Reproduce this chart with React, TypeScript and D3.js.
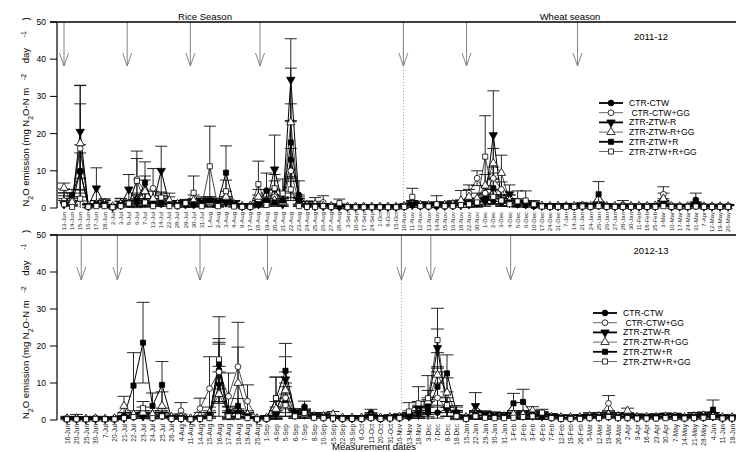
import * as d3 from "d3";

// treatments, in legend order
const seriesNames = [
  "CTR-CTW",
  " CTR-CTW+GG",
  "ZTR-ZTW-R",
  "ZTR-ZTW-R+GG",
  "ZTR-ZTW+R",
  "ZTR-ZTW+R+GG",
];

const topDates = [
  "13-Jun", "14-Jun", "15-Jun", "16-Jun", "17-Jun", "18-Jun", "2-Jul", "3-Jul", "5-Jul", "6-Jul",
  "7-Jul", "13-Jul", "14-Jul", "22-Jul", "28-Jul", "29-Jul", "30-Jul", "31-Jul", "1-Aug", "2-Aug",
  "3-Aug", "4-Aug", "9-Aug", "17-Aug", "18-Aug", "19-Aug", "20-Aug", "21-Aug", "22-Aug", "23-Aug",
  "24-Aug", "25-Aug", "26-Aug", "27-Aug", "28-Aug", "3-Sep", "10-Sep", "17-Sep", "24-Sep", "1-Oct",
  "8-Oct", "15-Oct", "10-Nov", "11-Nov", "12-Nov", "13-Nov", "14-Nov", "15-Nov", "16-Nov", "18-Nov",
  "22-Nov", "30-Nov", "1-Dec", "2-Dec", "3-Dec", "4-Dec", "5-Dec", "6-Dec", "10-Dec", "17-Dec",
  "24-Dec", "31-Dec", "7-Jan", "14-Jan", "21-Jan", "24-Jan", "25-Jan", "26-Jan", "27-Jan", "28-Jan",
  "30-Jan", "11-Feb", "18-Feb", "25-Feb", "3-Mar", "10-Mar", "17-Mar", "24-Mar", "31-Mar", "7-Apr",
  "12-May", "19-May", "26-May",
];

const bottomDates = [
  "16-Jun", "20-Jun", "25-Jun", "30-Jun", "7-Jul", "20-Jul", "21-Jul", "22-Jul", "23-Jul", "24-Jul",
  "25-Jul", "26-Jul", "4-Aug", "11-Aug", "14-Aug", "15-Aug", "16-Aug", "17-Aug", "18-Aug", "19-Aug",
  "25-Aug", "1-Sep", "4-Sep", "5-Sep", "6-Sep", "7-Sep", "8-Sep", "10-Sep", "15-Sep", "22-Sep",
  "29-Sep", "6-Oct", "13-Oct", "20-Oct", "31-Oct", "10-Nov", "13-Nov", "18-Nov", "3-Dec", "7-Dec",
  "8-Dec", "18-Dec", "15-Jan", "22-Jan", "29-Jan", "30-Jan", "31-Jan", "1-Feb", "2-Feb", "3-Feb",
  "6-Feb", "7-Feb", "12-Feb", "19-Feb", "26-Feb", "5-Mar", "12-Mar", "19-Mar", "26-Mar", "2-Apr",
  "9-Apr", "16-Apr", "23-Apr", "30-Apr", "7-May", "14-May", "21-May", "28-May", "4-Jun", "11-Jun",
  "18-Jun",
];

const yTicks = [0, 10, 20, 30, 40, 50];

// 2011-12 means
const top1 = [
  1.2, 1.0, 10.0, 0.5, 1.0, 1.0, 0.3, 0.8, 1.0, 2.5,
  1.5, 1.0, 1.0, 1.0, 0.8, 1.0, 1.2, 1.5, 1.5, 1.2,
  2.0, 1.0, 0.5, 0.6, 1.5, 4.7, 5.0, 1.5, 13.0, 3.5,
  0.8, 0.6, 0.5, 0.4, 0.5, 0.3, 0.3, 0.3, 0.3, 0.3,
  0.3, 0.3, 0.5, 1.0, 0.8, 0.8, 0.7, 0.8, 0.8, 1.0,
  1.2, 1.5, 2.5, 2.0, 1.5, 2.0, 1.0, 0.8, 0.6, 0.5,
  0.5, 0.5, 0.5, 0.4, 0.7, 0.5, 0.8, 0.5, 0.4, 0.4,
  0.4, 0.4, 0.5, 0.5, 1.0, 0.4, 0.4, 0.4, 2.2, 0.4,
  0.4, 0.4, 0.4,
];
const top2 = [
  2.0, 2.0, 16.0, 0.5, 1.0, 1.5, 0.4, 1.0, 1.0, 7.7,
  4.4, 5.3, 1.5, 1.5, 1.0, 1.0, 1.5, 1.0, 1.2, 1.5,
  2.0, 1.0, 0.5, 0.5, 2.0, 2.0, 3.0, 1.5, 10.0, 1.5,
  0.8, 0.8, 1.5, 0.5, 0.5, 0.3, 0.3, 0.3, 0.3, 0.3,
  0.3, 0.3, 0.4, 1.0, 0.8, 0.6, 0.8, 0.7, 0.8, 1.2,
  4.0, 8.0, 4.0, 8.0, 5.0, 1.5, 1.0, 1.0, 0.8, 0.5,
  0.5, 0.5, 0.5, 0.5, 0.6, 0.5, 0.5, 0.5, 0.4, 0.8,
  0.5, 0.5, 0.5, 0.6, 3.7, 0.5, 0.4, 0.4, 0.5, 0.4,
  0.4, 0.4, 0.4,
];
const top3 = [
  1.0, 1.0, 20.5, 0.5, 5.3, 1.0, 0.3, 0.8, 5.0, 1.5,
  1.5, 1.0, 10.0, 1.0, 0.8, 1.0, 1.0, 2.0, 2.0, 1.5,
  1.5, 1.0, 0.5, 0.5, 1.0, 1.5, 10.4, 1.0, 34.5, 2.0,
  0.6, 0.5, 0.5, 0.4, 0.4, 0.3, 0.3, 0.3, 0.3, 0.3,
  0.3, 0.3, 0.5, 0.8, 0.6, 0.6, 0.6, 0.6, 0.7, 0.8,
  1.0, 1.5, 2.0, 19.6, 2.0, 3.7, 1.2, 1.0, 0.7, 0.6,
  0.5, 0.5, 0.6, 0.5, 0.5, 0.5, 0.8, 0.5, 0.4, 0.4,
  0.4, 0.4, 0.4, 0.5, 1.5, 0.4, 0.4, 0.4, 0.8, 0.4,
  0.4, 0.4, 0.4,
];
const top4 = [
  5.4, 1.5, 17.4, 0.6, 1.0, 1.2, 0.4, 1.0, 1.0, 2.0,
  4.5, 2.5, 2.5, 2.0, 1.0, 1.2, 2.0, 1.5, 1.5, 1.5,
  3.0, 1.0, 0.5, 0.6, 3.0, 1.5, 2.0, 1.5, 23.0, 1.5,
  0.8, 1.0, 0.6, 0.5, 0.5, 0.3, 0.3, 0.3, 0.3, 0.3,
  0.3, 0.3, 0.5, 0.8, 0.8, 0.7, 0.8, 0.8, 1.0, 2.0,
  3.0, 2.5, 6.0, 12.0, 9.4, 2.0, 1.5, 1.0, 0.8, 0.6,
  0.5, 0.6, 0.5, 0.5, 0.6, 0.5, 0.6, 0.5, 0.5, 0.5,
  0.5, 0.5, 0.5, 0.6, 2.5, 0.5, 0.4, 0.4, 0.6, 0.4,
  0.4, 0.4, 0.4,
];
const top5 = [
  1.3, 3.5, 9.8, 0.5, 1.0, 1.0, 0.3, 0.8, 1.0, 2.0,
  6.8, 1.0, 1.5, 1.0, 0.8, 1.0, 1.0, 1.5, 2.0, 1.5,
  9.5, 1.0, 0.5, 0.5, 1.0, 2.0, 1.5, 2.0, 17.6, 2.0,
  0.6, 0.5, 0.5, 0.4, 0.4, 0.3, 0.3, 0.3, 0.3, 0.3,
  0.3, 0.3, 0.4, 0.8, 0.6, 0.6, 0.6, 0.6, 0.7, 0.8,
  1.0, 1.2, 2.0, 5.3, 2.0, 1.5, 1.0, 0.8, 0.6, 0.5,
  0.5, 0.5, 0.5, 0.4, 0.6, 0.5, 3.7, 0.5, 0.4, 0.4,
  0.4, 0.4, 0.4, 0.5, 1.0, 0.4, 0.4, 0.4, 0.8, 0.4,
  0.4, 0.4, 0.4,
];
const top6 = [
  1.0, 0.3, 2.5, 0.3, 0.5, 0.5, 0.2, 0.5, 1.2, 7.3,
  1.5, 0.5, 2.8, 0.5, 0.5, 1.3, 4.1, 0.5, 11.2, 0.5,
  4.5, 0.4, 0.3, 0.3, 6.4, 0.8, 5.3, 3.9, 5.0, 0.5,
  0.3, 0.3, 0.5, 0.3, 1.3, 0.2, 0.2, 0.2, 0.2, 0.2,
  0.2, 0.2, 0.3, 3.0, 0.5, 0.4, 1.0, 0.5, 0.5, 0.8,
  1.0, 1.5, 13.8, 3.0, 2.0, 1.0, 1.8, 2.0, 1.0, 0.4,
  0.3, 0.3, 0.3, 0.3, 0.4, 0.3, 0.5, 0.3, 0.3, 0.3,
  0.3, 0.3, 0.3, 0.3, 0.5, 0.3, 0.3, 0.3, 0.4, 0.3,
  0.3, 0.3, 0.3,
];

// 2011-12 standard errors
const topErr1 = [
  2.8, 1, 7, 0.5, 1, 1, 0.3, 1, 1, 1.5,
  1, 1, 1, 1, 1, 1, 1, 1, 1, 1,
  1, 0.8, 0.5, 0.5, 1, 4.7, 4, 1, 10.2, 3.8,
  1, 0.8, 0.5, 0.4, 0.5, 0.3, 0.3, 0.3, 0.3, 0.3,
  0.3, 0.3, 0.5, 1, 0.8, 0.8, 0.7, 0.8, 0.8, 1,
  1, 1, 1.5, 1, 1, 1.5, 1, 0.8, 0.6, 0.5,
  0.5, 0.5, 0.5, 0.4, 0.8, 0.5, 0.8, 0.5, 0.4, 0.4,
  0.4, 0.4, 0.5, 0.5, 1, 0.4, 0.4, 0.4, 1.8, 0.4,
  0.4, 0.4, 0.4,
];
const topErr2 = [
  3.1, 1, 12, 0.5, 1, 1, 0.3, 1.5, 1, 7.6,
  4.2, 5.3, 1, 1.5, 1, 1, 1, 1, 1, 1,
  1, 1, 0.5, 0.5, 1.5, 2, 2, 1, 6, 1,
  1, 1, 1.8, 0.5, 0.5, 0.3, 0.3, 0.3, 0.3, 0.3,
  0.3, 0.3, 0.4, 1, 0.8, 0.6, 0.8, 0.7, 0.8, 1,
  2.2, 2, 2, 3, 2, 1, 1, 1, 0.8, 0.5,
  0.5, 0.5, 0.5, 0.5, 0.6, 0.5, 0.5, 0.5, 0.4, 1.2,
  0.5, 0.5, 0.5, 0.6, 2, 0.5, 0.4, 0.4, 0.5, 0.4,
  0.4, 0.4, 0.4,
];
const topErr3 = [
  1.5, 1, 12.5, 0.5, 5.5, 1, 0.3, 1, 4, 1,
  1, 1, 6.6, 1, 1, 1, 1, 1, 1, 1,
  1, 1, 0.5, 0.5, 1, 1, 9.2, 1, 11, 1.5,
  0.6, 0.5, 0.5, 0.4, 0.4, 0.3, 0.3, 0.3, 0.3, 0.3,
  0.3, 0.3, 0.5, 0.8, 0.6, 0.6, 0.6, 0.6, 0.7, 0.8,
  1, 1, 1.5, 11.9, 1.5, 2.5, 1, 1, 0.7, 0.6,
  0.5, 0.5, 0.6, 0.5, 0.5, 0.5, 0.8, 0.5, 0.4, 0.4,
  0.4, 0.4, 0.4, 0.5, 1, 0.4, 0.4, 0.4, 0.8, 0.4,
  0.4, 0.4, 0.4,
];
const topErr4 = [
  1.3, 1, 15.5, 0.5, 1, 1, 0.3, 1.6, 1, 1.5,
  3, 2, 1.5, 2, 1, 1, 1.5, 1, 1, 1,
  1.5, 1, 0.5, 0.5, 2, 1, 1.5, 1, 14.6, 1,
  1, 1.8, 0.6, 0.5, 0.5, 0.3, 0.3, 0.3, 0.3, 0.3,
  0.3, 0.3, 0.5, 0.8, 0.8, 0.7, 0.8, 0.8, 1, 2.7,
  2, 1.5, 3, 4, 4.8, 1.5, 1, 1, 0.8, 0.6,
  0.5, 0.6, 0.5, 0.5, 0.6, 0.5, 0.6, 0.5, 0.5, 0.5,
  0.5, 0.5, 0.5, 0.6, 1.5, 0.5, 0.4, 0.4, 0.6, 0.4,
  0.4, 0.4, 0.4,
];
const topErr5 = [
  2, 1.5, 5, 0.5, 1, 1, 0.3, 1, 1, 1.5,
  5.6, 1, 1, 1, 1, 1, 1, 1, 1, 1,
  7.2, 1, 0.5, 0.5, 1, 1, 1, 1, 10.4, 1,
  0.6, 0.5, 0.5, 0.4, 0.4, 0.3, 0.3, 0.3, 0.3, 0.3,
  0.3, 0.3, 0.4, 0.8, 0.6, 0.6, 0.6, 0.6, 0.7, 0.8,
  1, 1, 1.5, 4.1, 1.5, 1, 1, 0.8, 0.6, 0.5,
  0.5, 0.5, 0.5, 0.4, 0.6, 0.5, 3.4, 0.5, 0.4, 0.4,
  0.4, 0.4, 0.4, 0.5, 1, 0.4, 0.4, 0.4, 0.8, 0.4,
  0.4, 0.4, 0.4,
];
const topErr6 = [
  1, 0.3, 2.5, 0.3, 0.5, 0.5, 0.2, 0.5, 1, 6,
  1, 0.5, 1.5, 0.5, 0.5, 1, 4.5, 0.5, 10.8, 0.5,
  3, 0.4, 0.3, 0.3, 6.2, 0.8, 2, 3.9, 3, 0.5,
  0.3, 0.3, 0.5, 0.3, 1.1, 0.2, 0.2, 0.2, 0.2, 0.2,
  0.2, 0.2, 0.3, 2.3, 0.5, 0.4, 2.3, 0.5, 0.5, 0.8,
  1, 1, 11, 2, 1.5, 1, 2.8, 2.6, 1, 0.4,
  0.3, 0.3, 0.3, 0.3, 0.4, 0.3, 0.5, 0.3, 0.3, 0.3,
  0.3, 0.3, 0.3, 0.3, 0.5, 0.3, 0.3, 0.3, 0.4, 0.3,
  0.3, 0.3, 0.3,
];

// 2012-13 means
const bot1 = [
  0.4, 0.4, 0.3, 0.4, 0.3, 0.4, 0.5, 1.0, 1.0, 0.8,
  1.0, 0.5, 0.5, 0.3, 0.5, 1.0, 13.5, 1.0, 1.0, 0.8,
  0.3, 0.5, 1.5, 5.0, 1.5, 3.6, 1.0, 0.8, 0.6, 0.5,
  0.5, 0.6, 2.0, 0.6, 0.7, 0.8, 1.0, 1.5, 2.0, 2.0,
  3.0, 1.5, 0.6, 1.2, 1.2, 1.0, 0.8, 1.0, 1.2, 1.0,
  1.0, 0.8, 0.6, 0.6, 0.6, 0.7, 0.7, 1.0, 0.8, 0.8,
  0.7, 0.7, 0.7, 0.8, 0.8, 0.6, 0.7, 0.8, 1.0, 0.6,
  0.6,
];
const bot2 = [
  0.5, 0.5, 0.3, 0.5, 0.3, 0.4, 1.0, 1.0, 1.5, 1.0,
  1.0, 0.5, 2.5, 0.3, 3.1, 8.5, 13.0, 6.4, 14.4, 5.1,
  0.3, 0.5, 2.0, 6.0, 1.5, 1.5, 1.0, 0.8, 0.6, 0.5,
  0.5, 0.5, 1.0, 0.5, 0.6, 0.8, 1.5, 2.5, 3.5, 6.0,
  3.0, 1.5, 0.6, 1.5, 1.0, 1.0, 1.0, 1.5, 1.5, 1.5,
  1.2, 0.8, 0.6, 0.6, 0.6, 0.8, 1.0, 4.5, 1.0, 1.0,
  0.8, 0.7, 0.7, 0.8, 0.8, 0.6, 1.0, 0.8, 1.0, 0.7,
  0.6,
];
const bot3 = [
  0.3, 0.3, 0.2, 0.3, 0.3, 0.3, 0.5, 1.0, 1.0, 0.8,
  1.5, 0.5, 0.5, 0.3, 0.5, 1.0, 9.5, 1.5, 2.0, 1.0,
  0.3, 0.5, 1.5, 11.0, 2.0, 1.5, 1.0, 0.8, 0.6, 0.5,
  0.5, 0.5, 0.8, 0.5, 0.6, 0.7, 1.0, 3.0, 4.0, 19.5,
  3.0, 2.0, 0.6, 3.8, 1.5, 1.2, 1.0, 1.0, 1.2, 1.2,
  1.0, 0.8, 0.6, 0.6, 0.7, 0.8, 0.8, 1.0, 0.8, 0.8,
  0.7, 0.7, 0.8, 1.2, 1.0, 0.7, 0.8, 0.8, 1.0, 0.6,
  0.6,
];
const bot4 = [
  0.4, 0.4, 0.3, 0.4, 0.3, 0.4, 3.8, 1.5, 2.0, 1.5,
  3.8, 0.8, 0.8, 0.4, 1.0, 2.0, 7.0, 2.0, 10.0, 1.5,
  0.4, 0.6, 3.0, 8.0, 1.5, 1.5, 1.0, 1.0, 1.5, 0.6,
  0.6, 0.6, 0.8, 0.6, 0.7, 0.8, 1.0, 2.0, 5.0, 12.2,
  7.4, 1.5, 0.7, 1.5, 1.0, 1.0, 1.0, 1.5, 1.5, 2.5,
  1.2, 0.8, 0.7, 0.7, 0.7, 1.0, 1.0, 1.5, 1.0, 2.5,
  0.8, 0.8, 0.8, 0.9, 0.9, 0.7, 1.0, 1.2, 1.0, 0.7,
  0.7,
];
const bot5 = [
  0.3, 0.3, 0.3, 0.3, 0.3, 0.3, 1.0, 9.3, 20.9, 3.8,
  9.5, 0.5, 0.5, 0.3, 0.5, 1.5, 15.2, 2.2, 3.8, 1.0,
  0.3, 0.5, 5.9, 13.3, 2.0, 2.0, 1.0, 0.8, 0.6, 0.5,
  0.5, 0.5, 0.8, 0.5, 0.6, 0.7, 1.0, 2.0, 3.0, 9.0,
  12.6, 2.0, 0.6, 1.5, 1.2, 1.0, 1.0, 4.5, 4.9, 1.5,
  1.0, 0.8, 0.6, 0.6, 0.6, 0.8, 0.8, 1.0, 0.8, 0.8,
  0.7, 0.7, 0.8, 0.8, 0.8, 0.7, 0.8, 1.0, 2.8, 0.6,
  0.6,
];
const bot6 = [
  0.2, 0.2, 0.2, 0.3, 0.2, 0.2, 0.5, 0.8, 3.2, 0.5,
  1.0, 0.3, 0.3, 0.2, 0.3, 0.5, 16.4, 1.0, 1.0, 0.5,
  0.2, 0.3, 5.9, 4.0, 1.0, 1.9, 0.6, 0.5, 0.4, 0.3,
  0.3, 0.3, 0.5, 0.3, 0.4, 0.5, 2.3, 4.5, 5.9, 21.6,
  4.0, 1.0, 0.3, 1.0, 0.6, 0.5, 0.5, 0.6, 0.8, 1.0,
  2.0, 0.5, 0.3, 0.3, 0.3, 0.5, 0.5, 0.8, 0.5, 0.5,
  0.4, 0.4, 0.4, 0.5, 0.5, 0.4, 0.5, 0.6, 0.8, 0.4,
  0.4,
];

// 2012-13 standard errors
const botErr1 = [
  0.3, 0.5, 0.3, 0.3, 0.3, 0.3, 0.5, 1, 1, 0.8,
  1, 0.5, 0.5, 0.3, 0.5, 1, 7, 1, 1, 0.8,
  0.3, 0.5, 1, 4, 1, 1.5, 1, 0.8, 0.6, 0.5,
  0.5, 0.6, 0.9, 0.6, 0.7, 0.8, 1, 1, 1.5, 1.5,
  2, 1, 0.6, 1, 1, 1, 0.8, 1, 1, 1,
  1, 0.8, 0.6, 0.6, 0.6, 0.7, 0.7, 1, 0.8, 0.8,
  0.7, 0.7, 0.7, 0.8, 0.8, 0.6, 0.7, 0.8, 1, 0.6,
  0.6,
];
const botErr2 = [
  0.5, 1, 0.3, 0.5, 0.3, 0.3, 1, 1, 1, 1,
  1, 0.5, 2.2, 0.3, 2.8, 8.6, 8, 6.3, 12, 4.4,
  0.3, 0.5, 1.5, 4, 1, 1, 1, 0.8, 0.6, 0.5,
  0.5, 0.5, 1, 0.5, 0.6, 0.8, 1, 1.5, 2, 4,
  2, 1, 0.6, 1, 1, 1, 1, 1, 1, 1,
  1, 0.8, 0.6, 0.6, 0.6, 0.8, 1, 2.1, 1, 1,
  0.8, 0.7, 0.7, 0.8, 0.8, 0.6, 1, 0.8, 1, 0.7,
  0.6,
];
const botErr3 = [
  0.3, 0.3, 0.2, 0.3, 0.3, 0.3, 0.5, 1, 1, 0.8,
  1, 0.5, 0.5, 0.3, 0.5, 1, 5, 1, 1, 1,
  0.3, 0.5, 1, 6.1, 1, 1, 1, 0.8, 0.6, 0.5,
  0.5, 0.5, 0.8, 0.5, 0.6, 0.7, 1, 2, 2, 5.1,
  2, 1.9, 0.6, 3.6, 1, 1, 1, 1, 1, 1,
  1, 0.8, 0.6, 0.6, 0.7, 0.8, 0.8, 1, 0.8, 0.8,
  0.7, 0.7, 0.8, 0.6, 0.8, 0.7, 0.8, 0.8, 1, 0.6,
  0.6,
];
const botErr4 = [
  0.4, 0.4, 0.3, 0.4, 0.3, 0.4, 2.6, 1, 1.5, 1,
  3.8, 0.8, 0.8, 0.4, 1, 1.5, 6, 1.5, 9.7, 1,
  0.4, 0.6, 2, 5, 1, 1, 1, 1, 0.8, 0.6,
  0.6, 0.6, 0.8, 0.6, 0.7, 0.8, 1, 1.5, 3, 6,
  4, 1, 0.7, 1, 1, 1, 1, 1, 1, 1.1,
  1, 0.8, 0.7, 0.7, 0.7, 1, 1, 1, 1, 0.7,
  0.8, 0.8, 0.8, 0.9, 0.9, 0.7, 1, 1, 1, 0.7,
  0.7,
];
const botErr5 = [
  0.3, 0.3, 0.3, 0.3, 0.3, 0.3, 1, 8.9, 10.9, 3.5,
  6.3, 0.5, 0.5, 0.3, 0.5, 1, 6.8, 1.5, 2, 1,
  0.3, 0.5, 5.7, 7.4, 1, 1, 1, 0.8, 0.6, 0.5,
  0.5, 0.5, 0.8, 0.5, 0.6, 0.7, 1, 1.5, 2, 5,
  5, 1.5, 0.6, 1, 1, 1, 1, 2.7, 3.4, 1,
  1, 0.8, 0.6, 0.6, 0.6, 0.8, 0.8, 1, 0.8, 0.8,
  0.7, 0.7, 0.8, 0.8, 0.8, 0.7, 0.8, 1, 2.6, 0.6,
  0.6,
];
const botErr6 = [
  0.2, 0.2, 0.2, 0.3, 0.2, 0.2, 0.5, 0.8, 1.8, 0.5,
  1, 0.3, 0.3, 0.2, 0.3, 0.5, 11.5, 1, 1, 0.5,
  0.2, 0.3, 5.7, 3, 1, 1, 0.6, 0.5, 0.4, 0.3,
  0.3, 0.3, 0.5, 0.3, 0.4, 0.5, 2.4, 4.5, 6.1, 8.6,
  2, 1, 0.3, 1, 0.6, 0.5, 0.5, 0.6, 0.8, 1,
  0.9, 0.5, 0.3, 0.3, 0.3, 0.5, 0.5, 0.8, 0.5, 0.5,
  0.4, 0.4, 0.4, 0.5, 0.5, 0.4, 0.5, 0.6, 0.8, 0.4,
  0.4,
];

// arrow events, as positions along the date axis (category index)
const topArrows = [0, 7.8, 15.6, 24.2, 41.9, 49.7, 63.4];
const bottomArrows = [1.5, 5.3, 14.0, 21.1, 35.2, 38.3, 46.7];
const topSeasonBreak = 41.9;
const bottomSeasonBreak = 35.2;

const font = "Liberation Sans, Arial, sans-serif";
const symbolTypes = [
  d3.symbolCircle,
  d3.symbolCircle,
  d3.symbolTriangle,
  d3.symbolTriangle,
  d3.symbolSquare,
  d3.symbolSquare,
];
const filled = [true, false, true, false, true, false];

function Marker({ cx, cy, k }: { cx: number; cy: number; k: number }) {
  const size = k === 2 || k === 3 ? 30 : 26;
  const d = d3.symbol().type(symbolTypes[k]).size(size)() ?? "";
  return (
    <path
      d={d}
      transform={`translate(${cx},${cy})${k === 2 ? " rotate(180)" : ""}`}
      fill={filled[k] ? "#000" : "#fff"}
      stroke="#000"
      strokeWidth={0.8}
    />
  );
}

type PanelProps = {
  y0: number;
  y50: number;
  x0: number;
  step: number;
  dates: string[];
  values: number[][];
  errors: number[][];
  arrows: number[];
  seasonBreak: number;
  arrowLen: number;
  year: string;
  yearY: number;
  legendX: number;
  legendY: number;
  capW: number;
  dateSize: number;
};

function Panel(p: PanelProps) {
  const n = p.dates.length;
  const x = d3
    .scaleLinear()
    .domain([0, n - 1])
    .range([p.x0, p.x0 + p.step * (n - 1)]);
  const y = d3.scaleLinear().domain([0, 50]).range([p.y0, p.y50]);
  const line = d3
    .line<number>()
    .x((_, i) => x(i))
    .y((d) => y(d));
  const axisX = 57;
  const midY = (p.y0 + p.y50) / 2 - 3;

  return (
    <g>
      {/* season break */}
      <line
        x1={x(p.seasonBreak)}
        x2={x(p.seasonBreak)}
        y1={p.y50}
        y2={p.y0}
        stroke="#888"
        strokeWidth={0.8}
        strokeDasharray="1,2"
      />
      {/* arrows */}
      {p.arrows.map((a, i) => {
        const ax = x(a);
        const tip = p.y50 + p.arrowLen;
        return (
          <g key={i} stroke="#777" strokeWidth={0.9} fill="none">
            <line x1={ax} x2={ax} y1={p.y50} y2={tip} />
            <polyline points={`${ax - 4.5},${tip - 13} ${ax},${tip} ${ax + 4.5},${tip - 13}`} />
          </g>
        );
      })}
      {/* frame */}
      <line x1={50} x2={736} y1={p.y50} y2={p.y50} stroke="#000" strokeWidth={1.3} />
      <line x1={axisX} x2={axisX} y1={p.y50} y2={p.y0} stroke="#000" strokeWidth={1.2} />
      {yTicks.map((t) => (
        <g key={t}>
          <line x1={50} x2={axisX} y1={y(t)} y2={y(t)} stroke="#000" strokeWidth={1} />
          <text
            x={46}
            y={y(t)}
            textAnchor="end"
            dominantBaseline="central"
            fontSize={8.5}
            fontFamily={font}
          >
            {t}
          </text>
        </g>
      ))}
      {/* y title */}
      <text
        transform={`translate(29,${midY}) rotate(-90)`}
        textAnchor="middle"
        fontSize={9.5}
        fontFamily={font}
        style={{ whiteSpace: "pre" }}
      >
        N<tspan baselineShift="sub" fontSize={7}>2</tspan>
        {"O emission (mg N"}
        <tspan baselineShift="sub" fontSize={7}>2</tspan>
        {"O-N m   "}
        <tspan baselineShift="super" fontSize={7}>-2</tspan>
        {"    day    "}
        <tspan baselineShift="super" fontSize={7}>-1</tspan>
        {"    )"}
      </text>
      {/* date labels */}
      {p.dates.map((d, i) => (
        <text
          key={i}
          transform={`translate(${x(i)},${p.y0 + 4}) rotate(-90)`}
          textAnchor="end"
          dominantBaseline="central"
          fontSize={p.dateSize}
          fontFamily={font}
          fill="#222"
        >
          {d}
        </text>
      ))}
      {/* error bars and lines */}
      {p.values.map((vals, k) => (
        <g key={k}>
          {vals.map((v, i) => {
            const e = p.errors[k][i];
            const hi = y(v + e);
            const lo = y(Math.max(0, v - e));
            const cx = x(i);
            return (
              <g key={i} stroke="#111" strokeWidth={0.9}>
                <line x1={cx} x2={cx} y1={hi} y2={lo} />
                <line x1={cx - p.capW / 2} x2={cx + p.capW / 2} y1={hi} y2={hi} />
                {v - e > 0.05 && (
                  <line x1={cx - p.capW / 2} x2={cx + p.capW / 2} y1={lo} y2={lo} />
                )}
              </g>
            );
          })}
          <path
            d={line(vals) ?? ""}
            fill="none"
            stroke="#000"
            strokeWidth={filled[k] ? 1 : 0.7}
          />
        </g>
      ))}
      {/* markers */}
      {p.values.map((vals, k) => (
        <g key={k}>
          {vals.map((v, i) => (
            <Marker key={i} cx={x(i)} cy={y(v)} k={k} />
          ))}
        </g>
      ))}
      {/* year */}
      <text x={651} y={p.yearY} textAnchor="middle" fontSize={9.5} fontFamily={font}>
        {p.year}
      </text>
      {/* legend */}
      {seriesNames.map((name, k) => {
        const ly = p.legendY + k * 9.7;
        return (
          <g key={name}>
            <line
              x1={p.legendX}
              x2={p.legendX + 24}
              y1={ly}
              y2={ly}
              stroke={filled[k] ? "#000" : "#555"}
              strokeWidth={filled[k] ? 1.8 : 0.9}
            />
            <Marker cx={p.legendX + 12} cy={ly} k={k} />
            <text
              x={p.legendX + 30}
              y={ly}
              dominantBaseline="central"
              fontSize={8.6}
              fontFamily={font}
              style={{ whiteSpace: "pre" }}
            >
              {name}
            </text>
          </g>
        );
      })}
    </g>
  );
}

export default function App() {
  return (
    <svg
      width={736}
      height={452}
      style={{ position: "absolute", left: 0, top: 0, background: "#fff" }}
    >
      <text x={205} y={20} textAnchor="middle" fontSize={9.5} fontFamily={font}>
        Rice Season
      </text>
      <text x={570} y={20} textAnchor="middle" fontSize={9.5} fontFamily={font}>
        Wheat season
      </text>
      <Panel
        y0={208}
        y50={22}
        x0={64}
        step={8.1}
        dates={topDates}
        values={[top1, top2, top3, top4, top5, top6]}
        errors={[topErr1, topErr2, topErr3, topErr4, topErr5, topErr6]}
        arrows={topArrows}
        seasonBreak={topSeasonBreak}
        arrowLen={44}
        year="2011-12"
        yearY={40}
        legendX={599}
        legendY={103}
        capW={12}
        dateSize={6}
      />
      <Panel
        y0={420}
        y50={235}
        x0={67}
        step={9.5}
        dates={bottomDates}
        values={[bot1, bot2, bot3, bot4, bot5, bot6]}
        errors={[botErr1, botErr2, botErr3, botErr4, botErr5, botErr6]}
        arrows={bottomArrows}
        seasonBreak={bottomSeasonBreak}
        arrowLen={45}
        year="2012-13"
        yearY={254}
        legendX={593}
        legendY={313}
        capW={13}
        dateSize={6.5}
      />
      <text x={374} y={450} textAnchor="middle" fontSize={9.5} fontFamily={font}>
        Measurement dates
      </text>
    </svg>
  );
}
